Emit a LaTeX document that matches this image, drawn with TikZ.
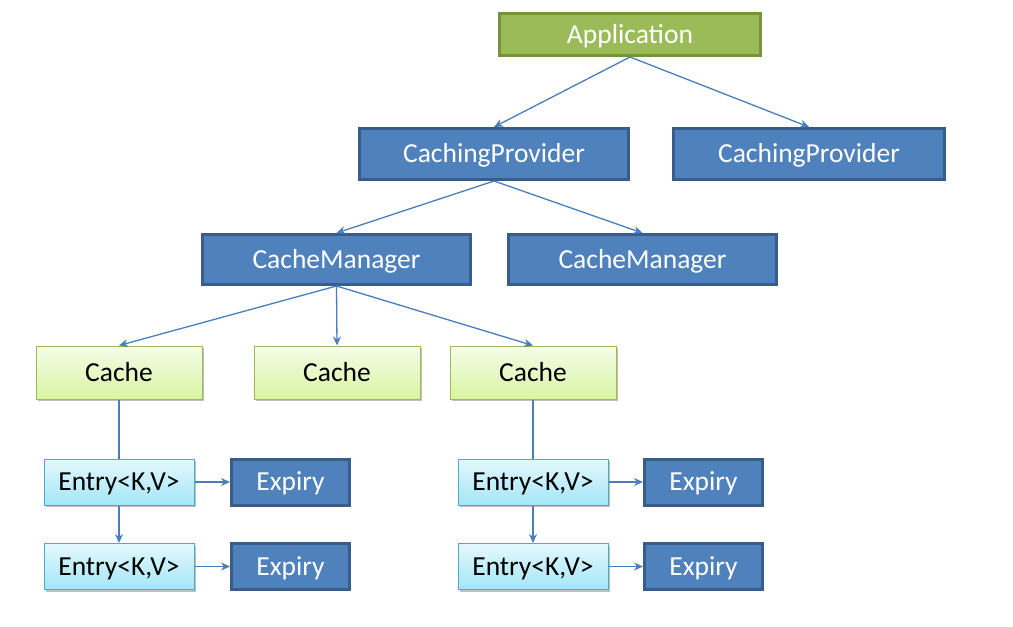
\documentclass[tikz,border=0pt]{standalone}
\usepackage{fontspec}
\setmainfont{Carlito}
\usetikzlibrary{arrows.meta,shadows}
\definecolor{appfill}{HTML}{9BBB59}
\definecolor{appdraw}{HTML}{76923C}
\definecolor{bluefill}{HTML}{4F81BD}
\definecolor{bluedraw}{HTML}{385D8A}
\definecolor{linec}{HTML}{4A7EBB}
\definecolor{cachetop}{HTML}{F6FCE8}
\definecolor{cachebot}{HTML}{D8F5A2}
\definecolor{cachedraw}{HTML}{9BBB59}
\definecolor{entrytop}{HTML}{E4F8FD}
\definecolor{entrybot}{HTML}{A3E6F8}
\definecolor{entrydraw}{HTML}{4BACC6}
\tikzset{
  box/.style={rectangle, inner sep=0pt, text height=17pt, text depth=0pt, font=\fontsize{27.5}{30}\selectfont},
  appbox/.style={box, fill=appfill, draw=appdraw, line width=3pt, text=white},
  bluebox/.style={box, fill=bluefill, draw=bluedraw, line width=3pt, text=white},
  cachebox/.style={box, top color=cachetop, bottom color=cachebot, draw=cachedraw, line width=1pt, text=black,
     drop shadow={shadow xshift=2pt, shadow yshift=-2pt, opacity=0.25, fill=black}},
  entrybox/.style={box, top color=entrytop, bottom color=entrybot, draw=entrydraw, line width=1pt, text=black,
     drop shadow={shadow xshift=2pt, shadow yshift=-2pt, opacity=0.25, fill=black}},
  conn/.style={draw=linec, line width=1.3pt},
  arr/.style={conn, -{Stealth[length=9pt,width=8pt]}},
}
\begin{document}
\begin{tikzpicture}[x=1pt,y=-1pt]
\useasboundingbox (0,0) rectangle (1013,627);
\node[appbox, minimum width=261pt, minimum height=42pt] (app) at (630,34.5) {Application};
\node[bluebox, minimum width=269pt, minimum height=51pt] (cp1) at (494,154) {CachingProvider};
\node[bluebox, minimum width=271pt, minimum height=51pt] (cp2) at (809,154) {CachingProvider};
\node[bluebox, minimum width=268pt, minimum height=50pt] (cm1) at (336.5,259.5) {CacheManager};
\node[bluebox, minimum width=268pt, minimum height=50pt] (cm2) at (642.5,259.5) {CacheManager};
\node[cachebox, minimum width=166pt, minimum height=53pt] (c1) at (119,372.5) {Cache};
\node[cachebox, minimum width=166pt, minimum height=53pt] (c2) at (337,372.5) {Cache};
\node[cachebox, minimum width=166pt, minimum height=53pt] (c3) at (533,372.5) {Cache};
\node[entrybox, minimum width=150pt, minimum height=46pt] (e1) at (119,482) {Entry<K,V>};
\node[entrybox, minimum width=150pt, minimum height=46pt] (e2) at (119,566.5) {Entry<K,V>};
\node[entrybox, minimum width=150pt, minimum height=46pt] (e3) at (533,482) {Entry<K,V>};
\node[entrybox, minimum width=150pt, minimum height=46pt] (e4) at (533,566.5) {Entry<K,V>};
\node[bluebox, minimum width=118pt, minimum height=46pt] (x1) at (290.5,482) {Expiry};
\node[bluebox, minimum width=118pt, minimum height=46pt] (x2) at (290.5,566.5) {Expiry};
\node[bluebox, minimum width=118pt, minimum height=46pt] (x3) at (703.5,482) {Expiry};
\node[bluebox, minimum width=118pt, minimum height=46pt] (x4) at (703.5,566.5) {Expiry};
\draw[arr] (app.south) -- (cp1.north);
\draw[arr] (app.south) -- (cp2.north);
\draw[arr] (cp1.south) -- (cm1.north);
\draw[arr] (cp1.south) -- (cm2.north);
\draw[arr] (cm1.south) -- (c1.north);
\draw[arr] (cm1.south) -- (c2.north);
\draw[arr] (cm1.south) -- (c3.north);
\draw[conn] (c1.south) -- (e1.north);
\draw[conn] (c3.south) -- (e3.north);
\draw[arr] (e1.south) -- (e2.north);
\draw[arr] (e3.south) -- (e4.north);
\draw[arr] (e1.east) -- (x1.west);
\draw[arr] (e2.east) -- (x2.west);
\draw[arr] (e3.east) -- (x3.west);
\draw[arr] (e4.east) -- (x4.west);
\end{tikzpicture}
\end{document}
